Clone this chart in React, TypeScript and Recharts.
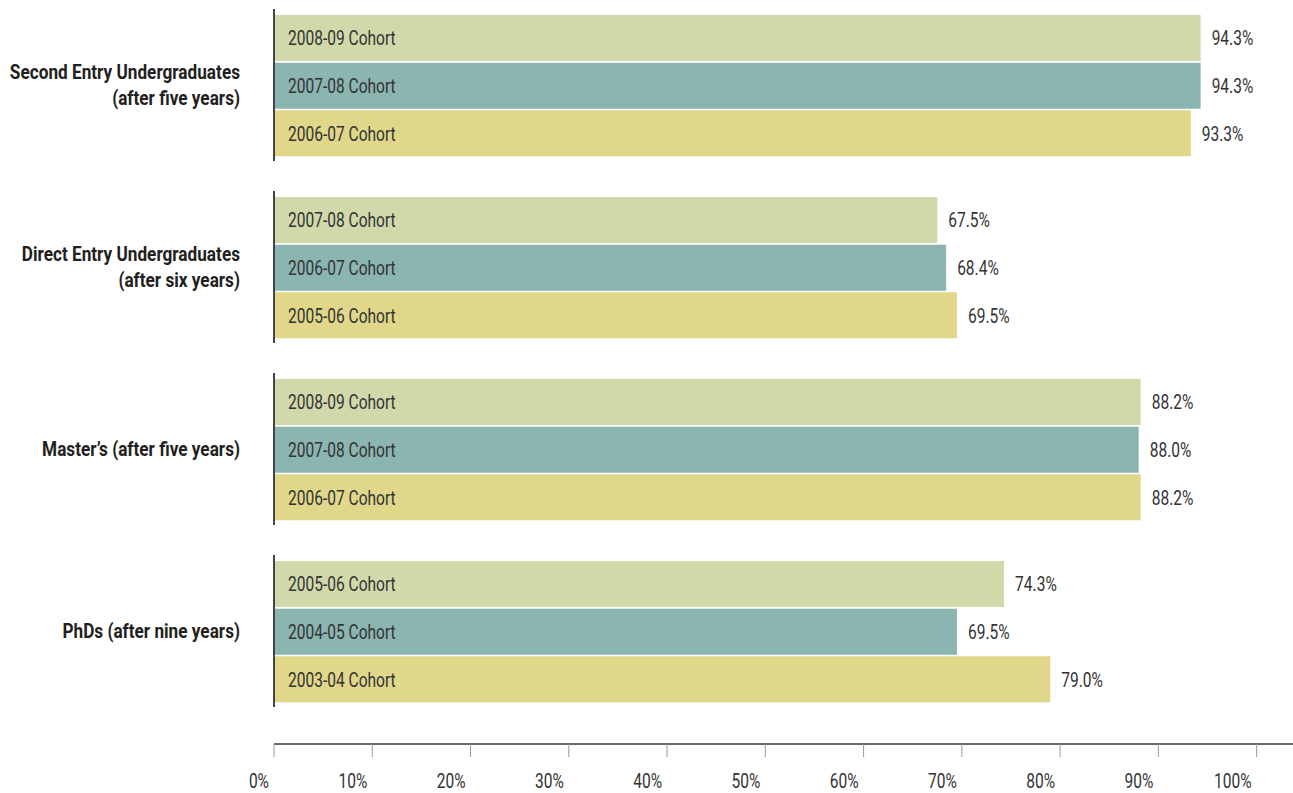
import React from 'react';
import { BarChart, Bar, XAxis, YAxis, Cell, LabelList } from 'recharts';

const groupLabels: string[][] = [
  ['Second Entry Undergraduates', '(after five years)'],
  ['Direct Entry Undergraduates', '(after six years)'],
  ['Master\u2019s (after five years)'],
  ['PhDs (after nine years)'],
];

const cohortLabels: string[][] = [
  ['2008-09 Cohort', '2007-08 Cohort', '2006-07 Cohort'],
  ['2007-08 Cohort', '2006-07 Cohort', '2005-06 Cohort'],
  ['2008-09 Cohort', '2007-08 Cohort', '2006-07 Cohort'],
  ['2005-06 Cohort', '2004-05 Cohort', '2003-04 Cohort'],
];

const completionRates: number[][] = [
  [94.3, 94.3, 93.3],
  [67.5, 68.4, 69.5],
  [88.2, 88.0, 88.2],
  [74.3, 69.5, 79.0],
];

const xTicks = [0, 10, 20, 30, 40, 50, 60, 70, 80, 90, 100];

const barColors = ['#D1D9AB', '#8BB5B0', '#E0D78A'];

const FONT = "Roboto, 'Noto Sans', sans-serif";
const WIDTH = 1293;
const LEFT = 274;
const Y_AXIS_W = 40;
// axis runs past 100% to the right edge
const X_MAX = 103.7;
const GROUP_STEP = 182;

// no condensed font installed, so squeeze the text horizontally
const CText = ({ x, y, anchor = 'start', size = 21, weight = 400, sx = 0.74, fill = '#333', children }: any) => (
  <text
    transform={`translate(${x} ${y}) scale(${sx} 1)`}
    x={0}
    y={0}
    dy="0.35em"
    textAnchor={anchor}
    fontFamily={FONT}
    fontSize={size}
    fontWeight={weight}
    fill={fill}
  >
    {children}
  </text>
);

const GroupLabel = ({ viewBox, lines }: any) => {
  const { x, y, width, height } = viewBox;
  const cy = y + height / 2;
  const n = lines.length;
  return (
    <g>
      {lines.map((l: string, k: number) => (
        <CText
          key={k}
          x={x + width - 34}
          y={cy + (k - (n - 1) / 2) * 26}
          anchor="end"
          size={20}
          weight={700}
          sx={0.86}
          fill="#231F20"
        >
          {l}
        </CText>
      ))}
    </g>
  );
};

const GroupChart = ({ index }: { index: number }) => {
  const data = cohortLabels[index].map((cohort, i) => ({
    cohort,
    rate: completionRates[index][i],
  }));
  return (
    <BarChart
      width={WIDTH}
      height={170}
      data={data}
      layout="vertical"
      margin={{ top: 9, right: 0, bottom: 9, left: LEFT - Y_AXIS_W }}
      barSize={46}
    >
      <XAxis type="number" domain={[0, X_MAX]} allowDataOverflow hide />
      <YAxis
        type="category"
        dataKey="cohort"
        width={Y_AXIS_W}
        tick={false}
        tickLine={false}
        axisLine={{ stroke: '#444', strokeWidth: 2 }}
        padding={{ top: 5, bottom: 4 }}
        label={{ content: (p: any) => <GroupLabel viewBox={p.viewBox} lines={groupLabels[index]} /> }}
      />
      <Bar dataKey="rate" isAnimationActive={false}>
        {data.map((_, i) => (
          <Cell key={i} fill={barColors[i]} />
        ))}
        <LabelList
          dataKey="cohort"
          content={(p: any) => (
            <CText x={p.x + 14} y={p.y + p.height / 2}>
              {p.value}
            </CText>
          )}
        />
        <LabelList
          dataKey="rate"
          content={(p: any) => (
            <CText x={p.x + p.width + 11} y={p.y + p.height / 2}>
              {`${Number(p.value).toFixed(1)}%`}
            </CText>
          )}
        />
      </Bar>
    </BarChart>
  );
};

const XTick = ({ x, y, payload }: any) => (
  <text
    transform={`translate(${x - 5} ${y + 29}) scale(0.74 1)`}
    textAnchor="end"
    fontFamily={FONT}
    fontSize={21}
    fill="#333"
  >
    {`${payload.value}%`}
  </text>
);

const AxisChart = () => {
  const data = xTicks.map((t) => ({ pct: t }));
  return (
    <BarChart
      width={WIDTH}
      height={93}
      data={data}
      layout="vertical"
      margin={{ top: 0, right: 0, bottom: 9, left: LEFT }}
    >
      <XAxis
        type="number"
        dataKey="pct"
        domain={[0, X_MAX]}
        allowDataOverflow
        ticks={xTicks}
        interval={0}
        height={40}
        tickSize={13}
        axisLine={{ stroke: '#666', strokeWidth: 2 }}
        tickLine={{ stroke: '#9a9a9a' }}
        tick={<XTick />}
      />
      <YAxis type="category" hide />
    </BarChart>
  );
};

const App = () => (
  <div style={{ position: 'absolute', top: 0, left: 0, width: WIDTH, height: 793, background: '#fff' }}>
    {groupLabels.map((_, i) => (
      <div key={i} style={{ position: 'absolute', top: i * GROUP_STEP, left: 0 }}>
        <GroupChart index={i} />
      </div>
    ))}
    <div style={{ position: 'absolute', top: 700, left: 0 }}>
      <AxisChart />
    </div>
  </div>
);

export default App;
